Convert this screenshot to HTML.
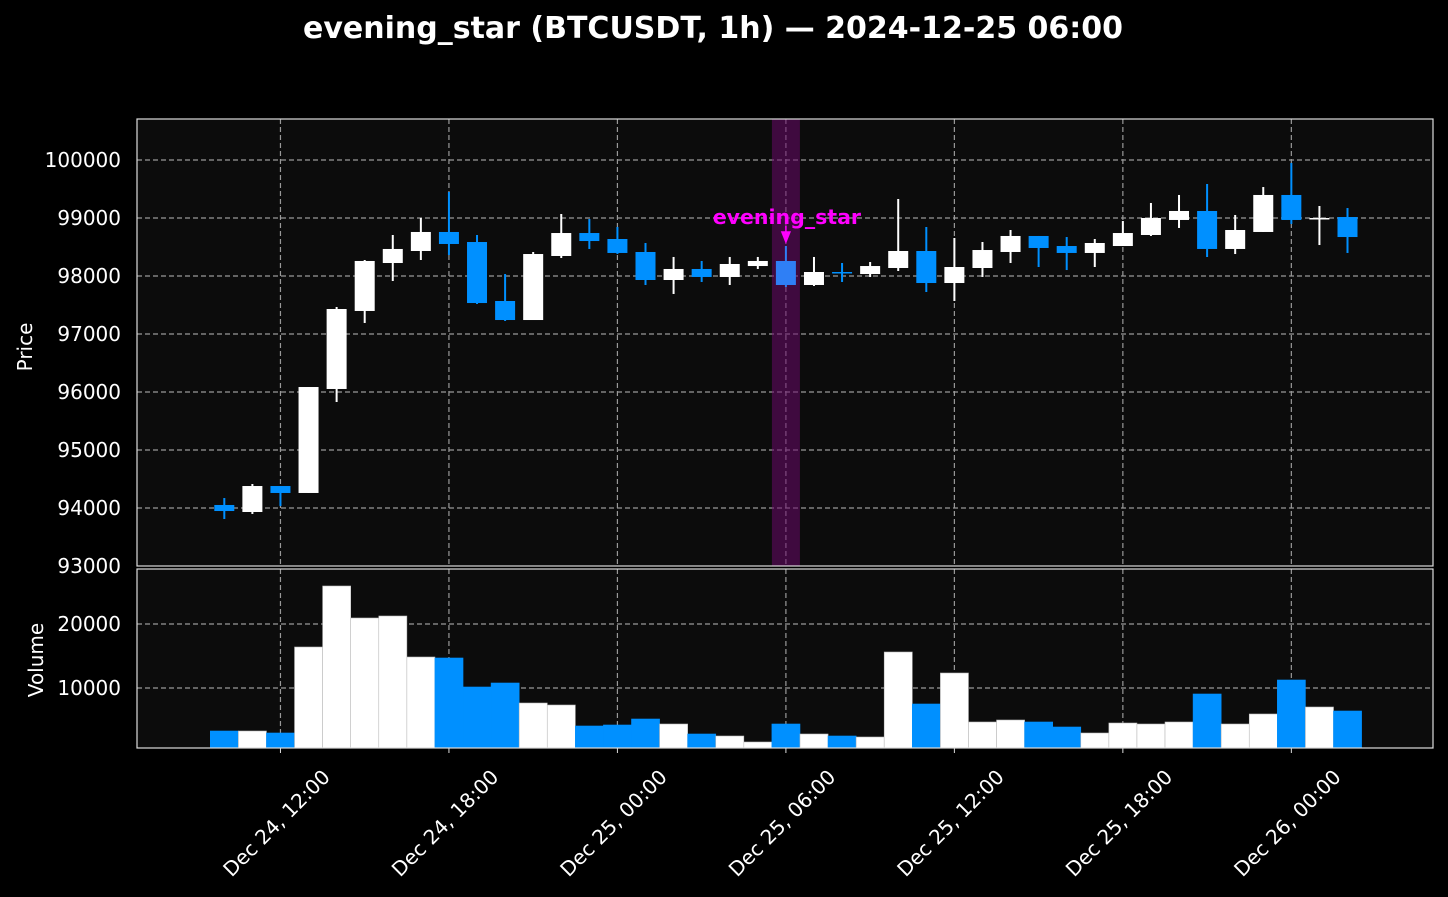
<!DOCTYPE html>
<html><head><meta charset="utf-8"><style>
html,body{margin:0;padding:0;background:#000;}
svg{display:block;font-family:"DejaVu Sans","Liberation Sans",sans-serif;}
</style></head><body>
<svg id="chart" width="1448" height="897" viewBox="0 0 1448 897">
<rect x="0" y="0" width="1448" height="897" fill="#000"/>
<text x="713" y="38" fill="#fff" font-size="30" font-weight="bold" text-anchor="middle">evening_star (BTCUSDT, 1h) — 2024-12-25 06:00</text>
<rect x="137" y="119" width="1296" height="447" fill="#0c0c0c"/>
<rect x="137" y="569" width="1296" height="179" fill="#0c0c0c"/>
<g id="grid"></g>
<g id="marks"></g>
<g id="labels"></g>
<rect x="137" y="119" width="1296" height="447" fill="none" stroke="#ddd" stroke-width="1.2"/>
<rect x="137" y="569" width="1296" height="179" fill="none" stroke="#ddd" stroke-width="1.2"/>
<text transform="translate(32,347) rotate(-90)" fill="#fff" font-size="20" text-anchor="middle">Price</text>
<text transform="translate(43,660) rotate(-90)" fill="#fff" font-size="20" text-anchor="middle">Volume</text>
</svg>
<script>
const opens  = [94052,93931,94379,94259,96052,97397,98224,98431,98759,98586,97569,97241,98345,98741,98638,98414,97931,98121,97983,98172,98259,97845,98069,98034,98138,98431,97879,98138,98414,98690,98517,98397,98517,98707,98966,99121,98466,98759,99397,98990,99017];
const closes = [93948,94379,94259,96086,97431,98259,98466,98759,98552,97534,97241,98379,98741,98603,98397,97931,98121,97983,98207,98259,97845,98069,98052,98172,98431,97879,98155,98448,98690,98483,98397,98569,98741,99000,99121,98466,98793,99397,98966,99000,98672];
const highs  = [94172,94414,94379,96086,97466,98276,98707,99000,99448,98707,98034,98414,99069,98983,98845,98569,98328,98259,98328,98328,98517,98328,98224,98241,99328,98845,98655,98586,98793,98690,98672,98638,98948,99259,99397,99586,99052,99534,99948,99207,99172];
const lows   = [93810,93897,94034,94259,95828,97190,97914,98276,98362,97517,97224,97241,98310,98466,98380,97845,97690,97897,97845,98121,97810,97828,97897,97983,98086,97724,97569,97983,98224,98155,98103,98155,98517,98690,98828,98328,98379,98759,98897,98534,98397];
const volumes= [3281,3281,2969,16406,25938,20938,21250,14844,14688,10156,10781,7656,7344,4063,4219,5156,4375,2813,2500,1563,4375,2813,2500,2344,15625,7500,12344,4688,5000,4688,3906,2969,4531,4375,4688,9063,4375,5938,11250,7031,6406];
const priceTicks = [93000,94000,95000,96000,97000,98000,99000,100000];
const volTicks = [10000,20000];
const xTickIdx = [2,8,14,20,26,32,38];
const xTickLabels = ["Dec 24, 12:00","Dec 24, 18:00","Dec 25, 00:00","Dec 25, 06:00","Dec 25, 12:00","Dec 25, 18:00","Dec 26, 00:00"];
const patternIdx = 20;
const patternLabel = "evening_star";

const NS="http://www.w3.org/2000/svg";
const xs = i => 224.3 + i*28.08;
const yp = p => 566 - (p-93000)*0.058;
const yv = v => Math.min(748, 752 - v*0.0064);
function mk(parent,tag,attrs){const e=document.createElementNS(NS,tag);for(const k in attrs)e.setAttribute(k,attrs[k]);document.getElementById(parent).appendChild(e);return e;}
const BLUE="#0090ff";
priceTicks.forEach(t=>{
  if(t>93000){const l=mk('grid','line',{x1:137,x2:1433,y1:yp(t),y2:yp(t),stroke:"#999","stroke-width":1.2,"stroke-dasharray":"5,3"});
  
  }
  const tx=mk('labels','text',{x:121,y:yp(t)+7,fill:"#fff","font-size":20,"text-anchor":"end"});
  tx.textContent=t;
  
  
});
volTicks.forEach(t=>{
  const l=mk('grid','line',{x1:137,x2:1433,y1:yv(t),y2:yv(t),stroke:"#999","stroke-width":1.2,"stroke-dasharray":"5,3"});
  
  
  const tx=mk('labels','text',{x:121,y:yv(t)+7,fill:"#fff","font-size":20,"text-anchor":"end"});
  tx.textContent=t;
  
  
});
xTickIdx.forEach((i,k)=>{
  const x=xs(i);
  [[119,566],[569,748]].forEach(r=>{
    const l=mk('grid','line',{x1:x,x2:x,y1:r[0],y2:r[1],stroke:"#999","stroke-width":1.2,"stroke-dasharray":"5,3"});
    
    
  });
  mk('labels','line',{x1:x,x2:x,y1:748,y2:753,stroke:"#ddd","stroke-width":1});
  const tx=mk('labels','text',{x:0,y:0,fill:"#fff","font-size":20,"text-anchor":"middle",transform:`translate(${x+1},${828}) rotate(-45)`});
  tx.textContent=xTickLabels[k];
  
  
});
const band=mk('marks','rect',{x:xs(patternIdx)-14,y:119,width:28,height:447,fill:"#6a0a6a",opacity:0.55});


opens.forEach((o,i)=>{
  const c=closes[i], up=c>=o, x=xs(i);
  let col=up?"#fff":BLUE;
  if(i===patternIdx && !up) col="#2f7ff5";
  const vb=mk('marks','rect',{x:x-14,y:yv(volumes[i]),width:28.08,height:748-yv(volumes[i]),fill:up?"#fff":BLUE,stroke:up?"#bbb":BLUE,"stroke-width":0.6});
  
  
  const w=mk('marks','line',{x1:x,x2:x,y1:yp(highs[i]),y2:yp(lows[i]),stroke:col,"stroke-width":2});
  
  
  const top=yp(Math.max(o,c)), bot=yp(Math.min(o,c));
  const b=mk('marks','rect',{x:x-10,y:top,width:20,height:Math.max(1.5,bot-top),fill:col});
  
  
});
const ax=xs(patternIdx), ay=yp(highs[patternIdx]);
const ar=mk('marks','path',{d:`M${ax},${ay-4} L${ax-4},${ay-14} L${ax+4},${ay-14} Z M${ax},${ay-14} L${ax},${ay-20}`,fill:"#ff00ff",stroke:"#ff00ff","stroke-width":1.5});


const lt=mk('marks','text',{x:ax+1,y:ay-22,fill:"#ff00ff","font-size":20.5,"font-weight":"bold","text-anchor":"middle"});
lt.textContent=patternLabel;


</script>
</body></html>
